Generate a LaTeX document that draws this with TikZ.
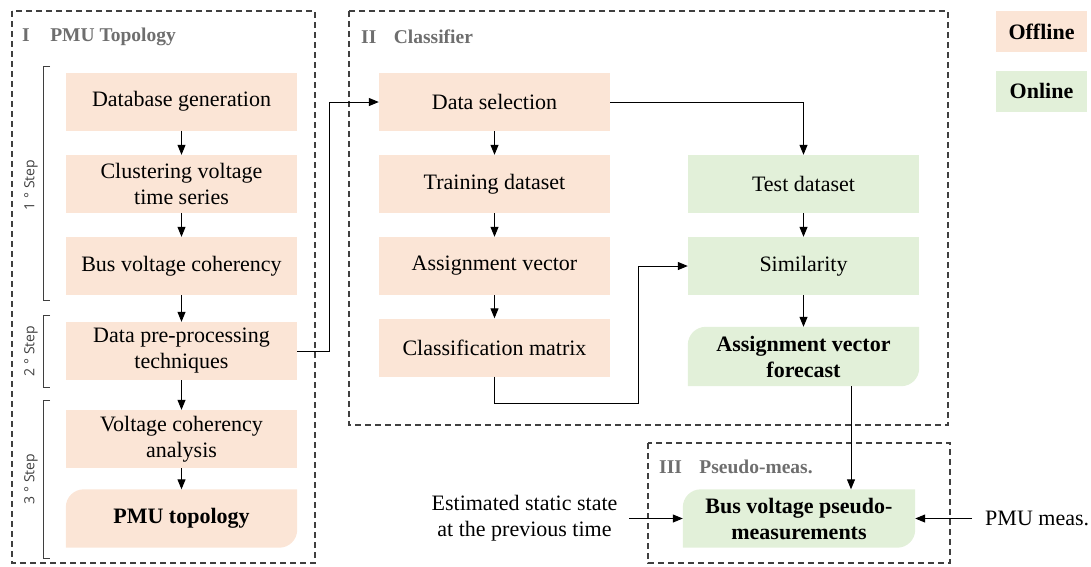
\documentclass[tikz,border=0pt]{standalone}
\usepackage{fontspec}
\setmainfont{Liberation Serif}
\newfontfamily\stepfont{Open Sans}
\usetikzlibrary{arrows.meta,calc}
\definecolor{offfill}{HTML}{FBE5D6}
\definecolor{onfill}{HTML}{E2F0D9}
\definecolor{framegray}{HTML}{3F3F3F}
\definecolor{titlegray}{HTML}{6E6E6E}
\pgfdeclarelayer{background}
\pgfsetlayers{background,main}
% fill with rounded top-left and bottom-right corners behind node #2
\newcommand\softcorners[2]{%
  \fill[#1] (#2.south west) -- ([yshift=-18pt]#2.north west)
    .. controls ([yshift=-8pt]#2.north west) and ([xshift=8pt]#2.north west) .. ([xshift=18pt]#2.north west)
    -- (#2.north east) -- ([yshift=18pt]#2.south east)
    .. controls ([yshift=8pt]#2.south east) and ([xshift=-8pt]#2.south east) .. ([xshift=-18pt]#2.south east)
    -- cycle;}
\begin{document}
\begin{tikzpicture}[x=1pt,y=-1pt,
  boxtext/.style={font=\fontsize{22}{26}\selectfont, align=center, inner sep=0pt,
                  minimum height=58pt, minimum width=231pt},
  offbox/.style={boxtext, fill=offfill},
  onbox/.style={boxtext, fill=onfill},
  flow/.style={line width=1pt, -{Triangle[length=10pt,width=8pt]}},
  frame/.style={draw=framegray, line width=1.2pt, dash pattern=on 6pt off 4pt},
  grouptitle/.style={font=\fontsize{19.5}{22}\selectfont\bfseries, text=titlegray,
                     anchor=west, inner sep=0pt},
  bracket/.style={draw=framegray, line width=0.9pt},
  steplabel/.style={font=\stepfont\fontsize{14}{16}\selectfont, rotate=90,
                    text=framegray, inner sep=0pt},
  legendbox/.style={font=\fontsize{22}{26}\selectfont\bfseries, inner sep=0pt,
                    minimum width=91pt, minimum height=41pt},
  plain/.style={font=\fontsize{22}{26}\selectfont, align=center, inner sep=0pt},
]
\useasboundingbox (0,0) rectangle (1091,566);

% group frames
\draw[frame] (12,11) rectangle (315,563);
\draw[frame] (349,11) rectangle (948,425);
\draw[frame] (648,443) rectangle (950,563);

\node[grouptitle] (t1) at (22,37) {I\hspace{1.05em}PMU Topology};
\node[grouptitle] (t2) at (361,37) {II\hspace{0.9em}Classifier};
\node[grouptitle] (t3) at (659,467) {III\hspace{0.9em}Pseudo-meas.};

% step brackets
\draw[bracket] (50,66) -- (43,66) -- (43,300) -- (50,300);
\draw[bracket] (50,315) -- (43,315) -- (43,387) -- (50,387);
\draw[bracket] (50,400) -- (43,400) -- (43,558) -- (50,558);
\node[steplabel] (s1) at (31,185) {1 ° Step};
\node[steplabel] (s2) at (31,351) {2 ° Step};
\node[steplabel] (s3) at (31,479) {3 ° Step};

% I: PMU topology column
\node[offbox] (db) at (181.5,101.5) {Database generation};
\node[offbox] (cl) at (181.5,184) {Clustering voltage\\time series};
\node[offbox] (bv) at (181.5,266) {Bus voltage coherency};
\node[offbox] (dp) at (181.5,351) {Data pre-processing\\techniques};
\node[offbox] (vc) at (181.5,439) {Voltage coherency\\analysis};
\node[boxtext, font=\fontsize{22}{26}\selectfont\bfseries] (pt) at (181.5,518.5) {PMU topology};

% II: classifier, offline column
\node[offbox] (ds) at (494.5,102) {Data selection};
\node[offbox] (td) at (494.5,184) {Training dataset};
\node[offbox] (av) at (494.5,266) {Assignment vector};
\node[offbox] (cm) at (494.5,347.5) {Classification matrix};

% II: classifier, online column
\node[onbox] (te) at (803.5,184) {Test dataset};
\node[onbox] (si) at (803.5,266) {Similarity};
\node[boxtext, font=\fontsize{22}{26}\selectfont\bfseries, minimum height=59pt] (fc) at (803.5,356.5) {Assignment vector\\forecast};

% III: pseudo-measurements
\node[boxtext, font=\fontsize{22}{26}\selectfont\bfseries, minimum width=232pt] (pm) at (799,518.5) {Bus voltage pseudo-\\measurements};
\node[plain] (est) at (524.5,518.5) {Estimated static state\\at the previous time};
\node[plain, anchor=west] (pmu) at (985,518.5) {PMU meas.};

% legend
\node[legendbox, fill=offfill] (loff) at (1041.5,31.5) {Offline};
\node[legendbox, fill=onfill] (lon) at (1041.5,91) {Online};

\begin{pgfonlayer}{background}
  \softcorners{offfill}{pt}
  \softcorners{onfill}{fc}
  \softcorners{onfill}{pm}
\end{pgfonlayer}

% connectors
\draw[flow] (db) -- (cl);
\draw[flow] (cl) -- (bv);
\draw[flow] (bv) -- (dp);
\draw[flow] (dp) -- (vc);
\draw[flow] (vc) -- (pt);
\draw[flow] (ds) -- (td);
\draw[flow] (td) -- (av);
\draw[flow] (av) -- (cm);
\draw[flow] (te) -- (si);
\draw[flow] (si) -- (fc.north -| si.south);

\coordinate (k0) at (329,351);
\draw[flow] (dp.east) -- (k0) |- (ds.west);
\draw[flow] (ds.east) -| (te.north);
\coordinate (k1) at (638,403);
\draw[flow] (cm.south) |- (k1) |- (si.west);
\coordinate (k2) at (851,386);
\draw[flow] (k2) -- (k2 |- pm.north);
\coordinate (k3) at (629,518.5);
\draw[flow] (k3) -- (pm.west);
\coordinate (k4) at (972,518.5);
\draw[flow] (k4) -- (pm.east);
\end{tikzpicture}
\end{document}
